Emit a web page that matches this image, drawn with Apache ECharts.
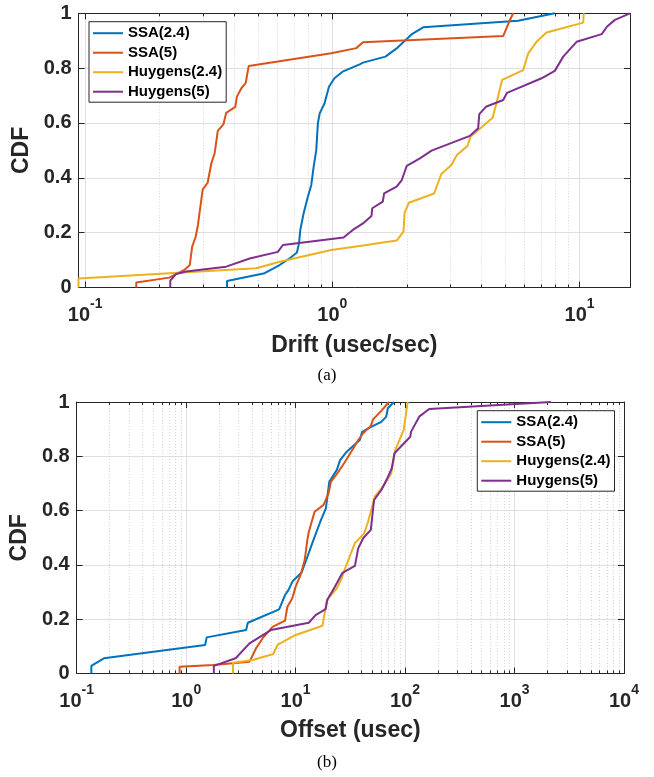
<!DOCTYPE html>
<html>
<head>
<meta charset="utf-8">
<script src="https://cdn.jsdelivr.net/npm/echarts@6.0.0/dist/echarts.min.js"></script>
<style>
  html, body { margin: 0; padding: 0; background: #fff; }
  #chart { width: 654px; height: 777px; }
</style>
</head>
<body>
<div id="chart"></div>
<script>
// legend names
const names = ['SSA(2.4)', 'SSA(5)', 'Huygens(2.4)', 'Huygens(5)']
const colors = ['#0072BD', '#D95319', '#EDB120', '#7E2F8E']

// (a) Drift (usec/sec)
const driftSsa24X = [0.375, 0.375, 0.532, 0.612, 0.671, 0.719, 0.733, 0.742, 0.765, 0.796, 0.822, 0.84, 0.861, 0.874, 0.889, 0.93, 0.969, 1.02, 1.10, 1.29, 1.33, 1.64, 1.82, 2.09, 2.33, 5.64, 7.94]
const driftSsa24Y = [0, 0.024, 0.052, 0.082, 0.106, 0.128, 0.161, 0.21, 0.27, 0.331, 0.374, 0.44, 0.501, 0.599, 0.635, 0.672, 0.732, 0.763, 0.787, 0.814, 0.82, 0.842, 0.872, 0.923, 0.949, 0.973, 1.0]
const driftSsa5X = [0.161, 0.161, 0.219, 0.252, 0.265, 0.271, 0.28, 0.286, 0.29, 0.295, 0.299, 0.313, 0.324, 0.334, 0.344, 0.363, 0.372, 0.405, 0.411, 0.428, 0.446, 0.459, 0.99, 1.25, 1.33, 4.91, 5.19, 5.39]
const driftSsa5Y = [0, 0.018, 0.036, 0.064, 0.082, 0.149, 0.185, 0.228, 0.27, 0.319, 0.358, 0.382, 0.453, 0.489, 0.571, 0.596, 0.637, 0.659, 0.696, 0.726, 0.745, 0.808, 0.854, 0.873, 0.894, 0.917, 0.969, 1.0]
const driftHuy24X = [0.094, 0.094, 0.492, 0.612, 0.99, 1.29, 1.82, 1.94, 1.96, 2.04, 2.58, 2.76, 3.03, 3.19, 3.52, 3.62, 4.45, 4.61, 4.86, 5.92, 6.2, 6.7, 7.35, 10.35, 10.4]
const driftHuy24Y = [0, 0.033, 0.07, 0.094, 0.137, 0.151, 0.171, 0.204, 0.273, 0.309, 0.343, 0.414, 0.447, 0.483, 0.516, 0.55, 0.619, 0.672, 0.757, 0.793, 0.854, 0.896, 0.93, 0.966, 1.0]
const driftHuy5X = [0.221, 0.221, 0.233, 0.256, 0.372, 0.463, 0.602, 0.631, 1.11, 1.21, 1.34, 1.44, 1.45, 1.60, 1.62, 1.82, 1.91, 2.0, 2.26, 2.52, 3.6, 3.89, 3.93, 4.18, 4.91, 5.09, 7.02, 7.94, 8.59, 9.73, 12.3, 12.9, 13.9, 16.0]
const driftHuy5Y = [0, 0.025, 0.049, 0.058, 0.076, 0.106, 0.13, 0.155, 0.182, 0.21, 0.236, 0.261, 0.289, 0.313, 0.343, 0.368, 0.392, 0.444, 0.471, 0.499, 0.553, 0.581, 0.632, 0.659, 0.684, 0.71, 0.763, 0.79, 0.842, 0.896, 0.924, 0.951, 0.976, 1.0]

// (b) Offset (usec)
const offSsa24X = [0.136, 0.136, 0.177, 1.49, 1.54, 3.53, 3.66, 7.07, 8.0, 8.59, 9.46, 11.3, 12.5, 14.2, 16.8, 18.9, 20.3, 23.8, 25.5, 29.3, 38.6, 40.5, 49.3, 60.7, 67.3, 69.6, 78.9]
const offSsa24Y = [0, 0.028, 0.056, 0.105, 0.133, 0.16, 0.187, 0.236, 0.289, 0.307, 0.342, 0.371, 0.418, 0.48, 0.559, 0.608, 0.706, 0.75, 0.786, 0.817, 0.86, 0.89, 0.909, 0.927, 0.946, 0.977, 1.0]
const offSsa5X = [0.871, 0.871, 1.77, 3.79, 4.35, 5.0, 6.15, 8.0, 8.41, 9.33, 10.0, 11.1, 12.1, 12.8, 13.2, 14.9, 18.0, 20.0, 21.0, 24.6, 28.3, 33.6, 37.3, 41.4, 48.6, 51.0, 61.5, 71.1]
const offSsa5Y = [0, 0.025, 0.031, 0.043, 0.093, 0.13, 0.172, 0.195, 0.246, 0.277, 0.32, 0.363, 0.418, 0.492, 0.522, 0.596, 0.621, 0.664, 0.706, 0.743, 0.78, 0.829, 0.86, 0.885, 0.912, 0.936, 0.97, 1.0]
const offHuy24X = [2.68, 2.68, 4.06, 6.24, 6.83, 10.0, 17.6, 19.3, 23.8, 26.4, 28.3, 34.8, 42.3, 45.9, 52.8, 62.8, 74.8, 81.3, 97.1, 105.6]
const offHuy24Y = [0, 0.04, 0.05, 0.072, 0.105, 0.142, 0.176, 0.271, 0.314, 0.351, 0.387, 0.48, 0.516, 0.559, 0.651, 0.688, 0.737, 0.823, 0.897, 1.0]
const offHuy5X = [1.79, 1.79, 2.83, 3.79, 5.94, 13.2, 15.2, 18.8, 19.5, 22.7, 26.8, 34.8, 37.3, 41.4, 48.6, 52.1, 60.7, 68.8, 75.6, 80.0, 111.6, 113.2, 134.6, 166, 2153]
const offHuy5Y = [0, 0.028, 0.056, 0.111, 0.16, 0.187, 0.215, 0.237, 0.272, 0.318, 0.371, 0.396, 0.461, 0.498, 0.529, 0.639, 0.676, 0.719, 0.756, 0.811, 0.872, 0.89, 0.946, 0.974, 1.0]

// axis ranges / tick labels
const driftRange = [0.094, 16]
const driftMajor = [0.1, 1, 10]
const offRange = [0.1, 10000]
const offMajor = [0.1, 1, 10, 100, 1000, 10000]
const yTicks = [0, 0.2, 0.4, 0.6, 0.8, 1]

const axisColor = '#262626'
const font = 'Liberation Sans, Arial, Helvetica, sans-serif'

function zip(xs, ys) {
  return xs.map((x, i) => [x, ys[i]])
}

// minor tick positions 2..9 of each decade inside the range
function minorTicks(range) {
  const out = []
  for (let e = -2; e <= 4; e++) {
    for (let k = 2; k <= 9; k++) {
      const v = k * Math.pow(10, e)
      if (v > range[0] && v < range[1]) out.push(v)
    }
  }
  return out
}

function xAxes(gridIndex, range, major, name, nameGap) {
  const minor = minorTicks(range)
  const base = {
    type: 'log',
    logBase: 10,
    gridIndex,
    min: range[0],
    max: range[1]
  }
  return [
    // bottom, major ticks + labels + solid grid
    Object.assign({}, base, {
      position: 'bottom',
      name,
      nameLocation: 'middle',
      nameGap,
      nameTextStyle: { fontSize: 23, fontWeight: 'bold', color: axisColor, fontFamily: font },
      axisLine: { show: true, onZero: false, lineStyle: { color: axisColor, width: 1 } },
      axisTick: { show: true, inside: true, length: 6, customValues: major, lineStyle: { color: axisColor } },
      axisLabel: {
        customValues: major,
        margin: 10,
        formatter: v => '{b|10}{s|' + Math.round(Math.log10(v)) + '}',
        rich: {
          b: { fontSize: 20, fontWeight: 'bold', color: axisColor, fontFamily: font, lineHeight: 36 },
          s: { fontSize: 14, fontWeight: 'bold', color: axisColor, fontFamily: font, lineHeight: 14, verticalAlign: 'top' }
        }
      },
      splitLine: { show: true, lineStyle: { color: '#dfdfdf', width: 1 } }
    }),
    // bottom, minor ticks + dotted grid
    Object.assign({}, base, {
      position: 'bottom',
      axisLine: { show: false, onZero: false },
      axisTick: { show: true, inside: true, length: 3, customValues: minor, lineStyle: { color: axisColor } },
      axisLabel: { show: false },
      splitLine: { show: true, lineStyle: { color: '#d6d6d6', width: 1, type: [1, 2] } }
    }),
    // top frame with major ticks
    Object.assign({}, base, {
      position: 'top',
      axisLine: { show: true, onZero: false, lineStyle: { color: axisColor, width: 1 } },
      axisTick: { show: true, inside: true, length: 6, customValues: major, lineStyle: { color: axisColor } },
      axisLabel: { show: false },
      splitLine: { show: false }
    }),
    // top minor ticks
    Object.assign({}, base, {
      position: 'top',
      axisLine: { show: false, onZero: false },
      axisTick: { show: true, inside: true, length: 3, customValues: minor, lineStyle: { color: axisColor } },
      axisLabel: { show: false },
      splitLine: { show: false }
    })
  ]
}

function yAxes(gridIndex, nameGap) {
  return [
    {
      type: 'value',
      gridIndex,
      min: 0,
      max: 1,
      interval: 0.2,
      position: 'left',
      name: 'CDF',
      nameLocation: 'middle',
      nameGap,
      nameTextStyle: { fontSize: 23, fontWeight: 'bold', color: axisColor, fontFamily: font },
      axisLine: { show: true, lineStyle: { color: axisColor, width: 1 } },
      axisTick: { show: true, inside: true, length: 6, lineStyle: { color: axisColor } },
      axisLabel: {
        margin: 7,
        fontSize: 20,
        fontWeight: 'bold',
        color: axisColor,
        fontFamily: font,
        customValues: yTicks
      },
      splitLine: { show: true, lineStyle: { color: '#dfdfdf', width: 1 } }
    },
    {
      type: 'value',
      gridIndex,
      min: 0,
      max: 1,
      interval: 0.2,
      position: 'right',
      axisLine: { show: true, lineStyle: { color: axisColor, width: 1 } },
      axisTick: { show: true, inside: true, length: 6, lineStyle: { color: axisColor } },
      axisLabel: { show: false },
      splitLine: { show: false }
    }
  ]
}

function lineSeries(name, color, data, xAxisIndex, yAxisIndex) {
  return {
    name,
    type: 'line',
    data,
    xAxisIndex,
    yAxisIndex,
    symbol: 'none',
    showSymbol: false,
    clip: false,
    lineStyle: { color, width: 2 },
    itemStyle: { color },
    emphasis: { disabled: true }
  }
}

function legendAt(left, top) {
  return {
    data: names.map(n => ({ name: n, icon: 'rect' })),
    orient: 'vertical',
    left,
    top,
    padding: [4, 4, 3, 4],
    itemGap: 4.5,
    itemWidth: 30,
    itemHeight: 2,
    backgroundColor: '#fff',
    borderColor: axisColor,
    borderWidth: 1,
    selectedMode: false,
    textStyle: { fontSize: 15, fontWeight: 'bold', color: '#000', fontFamily: font, lineHeight: 15 }
  }
}

const chart = echarts.init(document.getElementById('chart'), null, { renderer: 'canvas' })

chart.setOption({
  animation: false,
  backgroundColor: '#fff',
  title: [
    { text: '(a)', left: 'center', top: 367, padding: 0,
      textStyle: { fontSize: 17, fontWeight: 'normal', color: '#000', fontFamily: 'Liberation Serif, Times New Roman, serif' } },
    { text: '(b)', left: 'center', top: 754, padding: 0,
      textStyle: { fontSize: 17, fontWeight: 'normal', color: '#000', fontFamily: 'Liberation Serif, Times New Roman, serif' } }
  ],
  grid: [
    { left: 78.5, right: 24, top: 13.3, height: 274.2 },
    { left: 68.5, right: 30, top: 402, height: 271.5 }
  ],
  legend: [legendAt(89, 21.7), legendAt(477.3, 410.7)],
  xAxis: [].concat(
    xAxes(0, driftRange, driftMajor, 'Drift (usec/sec)', 47),
    xAxes(1, offRange, offMajor, 'Offset (usec)', 46)
  ),
  yAxis: [].concat(yAxes(0, 38), yAxes(1, 42)),
  series: [
    lineSeries(names[0], colors[0], zip(driftSsa24X, driftSsa24Y), 0, 0),
    lineSeries(names[1], colors[1], zip(driftSsa5X, driftSsa5Y), 0, 0),
    lineSeries(names[2], colors[2], zip(driftHuy24X, driftHuy24Y), 0, 0),
    lineSeries(names[3], colors[3], zip(driftHuy5X, driftHuy5Y), 0, 0),
    lineSeries(names[0], colors[0], zip(offSsa24X, offSsa24Y), 4, 2),
    lineSeries(names[1], colors[1], zip(offSsa5X, offSsa5Y), 4, 2),
    lineSeries(names[2], colors[2], zip(offHuy24X, offHuy24Y), 4, 2),
    lineSeries(names[3], colors[3], zip(offHuy5X, offHuy5Y), 4, 2)
  ]
})
</script>
</body>
</html>
